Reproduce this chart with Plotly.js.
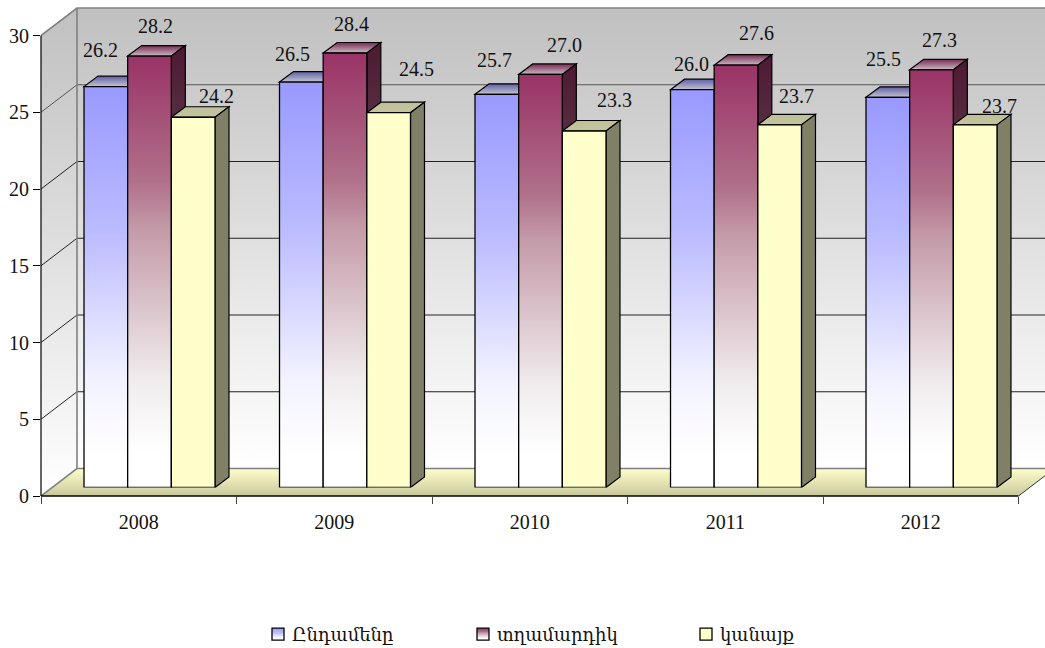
<!DOCTYPE html>
<html><head><meta charset="utf-8">
<script src="https://cdn.plot.ly/plotly-3.0.1.min.js"></script>
<style>html,body{margin:0;padding:0;background:#fff}</style>
</head><body><div id="chart" style="width:1045px;height:648px"></div>
<script>
const years = ['2008','2009','2010','2011','2012'];
const seriesNames = ['Ընդամենը','տղամարդիկ','կանայք'];
const totalVals = [26.2,26.5,25.7,26.0,25.5];
const menVals = [28.2,28.4,27.0,27.6,27.3];
const womenVals = [24.2,24.5,23.3,23.7,23.7];
const yTicks = [0,5,10,15,20,25,30];

const W=1045,H=648,pxX=195.5,pxY=15.35,pxYb=15.3;
const ax0=41, ay0=496, bx0=51.75, by0=487.5;
const wallDx=36/pxX, wallDy=27.5/pxY;
const barDx=14/pxX, barDy=10.5/pxYb;
const barW=0.67/3;
const all=[totalVals,menVals,womenVals];
const idx=years.map((_,i)=>i);
const serif='"Liberation Serif","Times New Roman",serif';
const xEnd=-0.5+5+wallDx;

const shapes=[], fills=[];
function poly(ref,pts,fill,lineC,lineW,grad){
  const xr=ref==='a'?'x':'x2', yr=ref==='a'?'y':'y2';
  shapes.push({type:'path',xref:xr,yref:yr,layer:'below',
    path:'M'+pts.map(p=>p[0]+','+p[1]).join('L')+(fill?'Z':''),
    fillcolor:fill||'rgba(0,0,0,0)',line:{color:lineC,width:lineW}});
  fills.push(grad||null);
}
// walls and floor
poly('a',[[-0.5,0],[-0.5+wallDx,wallDy],[-0.5+wallDx,30+wallDy],[-0.5,30]],'#e0e0e0','rgba(0,0,0,0)',0,'gWall');
poly('a',[[-0.5+wallDx,wallDy],[xEnd,wallDy],[xEnd,30+wallDy],[-0.5+wallDx,30+wallDy]],'#e0e0e0','rgba(0,0,0,0)',0,'gWall');
poly('a',[[-0.5,0],[4.5,0],[xEnd,wallDy],[-0.5+wallDx,wallDy]],'#eeeebb','rgba(0,0,0,0)',0,'gFloor');
yTicks.forEach(v=>{
  const edge=(v===0||v===30);
  if(v===0){
    poly('a',[[-0.5,0],[-0.5+wallDx,wallDy],[xEnd,wallDy]],null,'#808080',1.6);
  }else{
    poly('a',[[-0.5,v],[-0.5+wallDx,v+wallDy],[xEnd,v+wallDy]],null,edge?'#808080':(v===25?'#555555':'#222222'),edge?1.6:1);
  }
});
poly('a',[[-0.5+wallDx,wallDy],[-0.5+wallDx,30+wallDy]],null,'#808080',1.6);
poly('a',[[4.5,0],[xEnd,wallDy]],null,'#333333',1);

// bar tops and sides, drawn from the values
const topFill=['gTop0','gTop1','gTop2'], sideFill=['gSide0','gSide1','gSide2'];
idx.forEach(i=>{
  all.forEach((vals,s)=>{
    const c=i+(s-1)*barW, l=c-barW/2, r=c+barW/2, v=vals[i];
    poly('b',[[l,v],[l+barDx,v+barDy],[r+barDx,v+barDy],[r,v]],'#999999','#000',1.2,topFill[s]);
    poly('b',[[r,0],[r+barDx,barDy],[r+barDx,v+barDy],[r,v]],'#666666','#000',1.2,sideFill[s]);
  });
});
// axis lines
const px=x=>x/W, py=y=>1-y/H;
shapes.push({type:'line',xref:'paper',yref:'paper',layer:'above',x0:px(ax0),x1:px(ax0),y0:py(ay0),y1:py(ay0-30*pxY),line:{color:'#000',width:1.2}});fills.push(null);
shapes.push({type:'line',xref:'paper',yref:'paper',layer:'above',x0:px(ax0),x1:px(ax0+5*pxX),y0:py(ay0),y1:py(ay0),line:{color:'#000',width:1.4}});fills.push(null);

// label placement relative to each bar top, in pixels (per series, per year)
const labelDx=[[-5.1,-9,-2.1,-0.6,-4.5],[5.5,6.7,24.2,20.7,7.5],[23.8,27.6,30.8,16.6,24.8]];
const labelDy=[[36.6,27.7,34.6,25.4,38.1],[30.3,28.7,29,31.9,29.8],[21.5,43.3,31,29.2,19.2]];
const annotations=[];
all.forEach((vals,s)=>vals.forEach((v,i)=>{
  annotations.push({xref:'x2',yref:'y2',x:i+(s-1)*barW,y:v,xshift:labelDx[s][i],yshift:labelDy[s][i],
    text:v.toFixed(1),showarrow:false,xanchor:'center',yanchor:'middle',
    font:{family:serif,size:20,color:'#111'}});
}));

const traces=[{type:'scatter',mode:'markers',x:years,y:years.map(()=>0),xaxis:'x',yaxis:'y',
  marker:{opacity:0,size:1},showlegend:false,hoverinfo:'skip'}];
const solid=['#9999ff','#993366','#ffffcc'];
all.forEach((vals,s)=>traces.push({type:'bar',name:seriesNames[s],x:idx,y:vals,xaxis:'x2',yaxis:'y2',
  marker:{color:solid[s],line:{color:'#000',width:1.3}},hoverinfo:'skip'}));

const layout={width:W,height:H,margin:{l:0,r:0,t:0,b:0,autoexpand:false},paper_bgcolor:'#fff',plot_bgcolor:'rgba(0,0,0,0)',
  barmode:'group',bargap:0.33,bargroupgap:0,showlegend:true,
  font:{family:serif,size:20,color:'#111'},
  xaxis:{type:'category',categoryorder:'array',categoryarray:years,domain:[ax0/W,1],range:[-0.5,-0.5+(W-ax0)/pxX],anchor:'y',
    tickson:'boundaries',ticks:'outside',ticklen:7,tickwidth:1,tickcolor:'#444',showgrid:false,zeroline:false,showline:false,
    ticklabelstandoff:12,tickfont:{family:serif,size:20,color:'#111'},fixedrange:true},
  yaxis:{domain:[(H-ay0)/H,1],range:[0,ay0/pxY],anchor:'x',tickmode:'array',tickvals:yTicks,ticktext:yTicks.map(String),
    ticks:'outside',ticklen:7,tickwidth:1,tickcolor:'#000',showgrid:false,zeroline:false,showline:false,
    tickfont:{family:serif,size:20,color:'#111'},fixedrange:true},
  xaxis2:{domain:[bx0/W,1],range:[-0.5,-0.5+(W-bx0)/pxX],anchor:'y2',visible:false,fixedrange:true},
  yaxis2:{domain:[(H-by0)/H,1],range:[0,by0/pxYb],anchor:'x2',visible:false,fixedrange:true},
  legend:{orientation:'h',x:258/W,y:1-616/H,xanchor:'left',yanchor:'top',entrywidth:225,entrywidthmode:'pixels',
    itemclick:false,itemdoubleclick:false,bgcolor:'rgba(0,0,0,0)',
    font:{family:'"DejaVu Serif",serif',size:18,color:'#111'}},
  shapes,annotations};

const gradDefs={
  gWall:[['0','#c0c0c0'],['1','#ffffff']],
  gFloor:[['0','#ffffcc'],['1','#c8c89c']],
  gFront0:[['0','#9999ff'],['0.36','#bbbbff'],['0.73','#f2f2ff'],['0.92','#ffffff']],
  gFront1:[['0','#993366'],['0.29','#b0708a'],['0.40','#c49aa8'],['0.75','#f0ecee'],['0.92','#ffffff']],
  gFront2:[['0','#ffffcc'],['1','#ffffcc']],
  gTop0:[['0','#5f5fa8'],['1','#c4c4d0']],
  gTop1:[['0','#7a2952'],['1','#c9bcc4']],
  gTop2:[['0','#bfbf99'],['1','#c4c49e']],
  gSide0:[['0','#4d4d80'],['0.9','#808080']],
  gSide1:[['0','#4d1a33'],['0.9','#808080']],
  gSide2:[['0','#808066'],['1','#808066']]
};
const legendX=[258,463,686], legendTextX=34;
Plotly.newPlot('chart',traces,layout,{displayModeBar:false,staticPlot:true}).then(gd=>{
  const NS='http://www.w3.org/2000/svg';
  const defs=gd.querySelector('svg.main-svg defs')||gd.querySelector('svg.main-svg').appendChild(document.createElementNS(NS,'defs'));
  Object.keys(gradDefs).forEach(id=>{
    const g=document.createElementNS(NS,'linearGradient');
    g.setAttribute('id',id);g.setAttribute('x1','0');g.setAttribute('y1','0');g.setAttribute('x2','0');g.setAttribute('y2','1');
    gradDefs[id].forEach(st=>{const s=document.createElementNS(NS,'stop');s.setAttribute('offset',st[0]);s.setAttribute('stop-color',st[1]);g.appendChild(s);});
    defs.appendChild(g);
  });
  fills.forEach((f,i)=>{ if(!f)return;
    gd.querySelectorAll('path[data-index="'+i+'"]').forEach(p=>{p.style.fill='url(#'+f+')';});
  });
  gd.querySelectorAll('.barlayer .trace').forEach((t,s)=>{
    t.querySelectorAll('path').forEach(p=>{p.style.fill='url(#gFront'+s+')';});
  });
  gd.querySelectorAll('.legend g.traces').forEach((t,s)=>{
    const m=/translate\(([^,]+),\s*([^)]+)\)/.exec(t.getAttribute('transform'));
    t.setAttribute('transform','translate('+(legendX[s]-(+gd.querySelector('.legend').getAttribute('transform').match(/translate\(([^,]+)/)[1]))+','+m[2]+')');
    const sw=t.querySelector('.legendpoints path'); if(sw) sw.style.fill='url(#gFront'+s+')';
    const tx=t.querySelector('text.legendtext'); if(tx) tx.setAttribute('x',legendTextX);
  });
});
</script></body></html>
